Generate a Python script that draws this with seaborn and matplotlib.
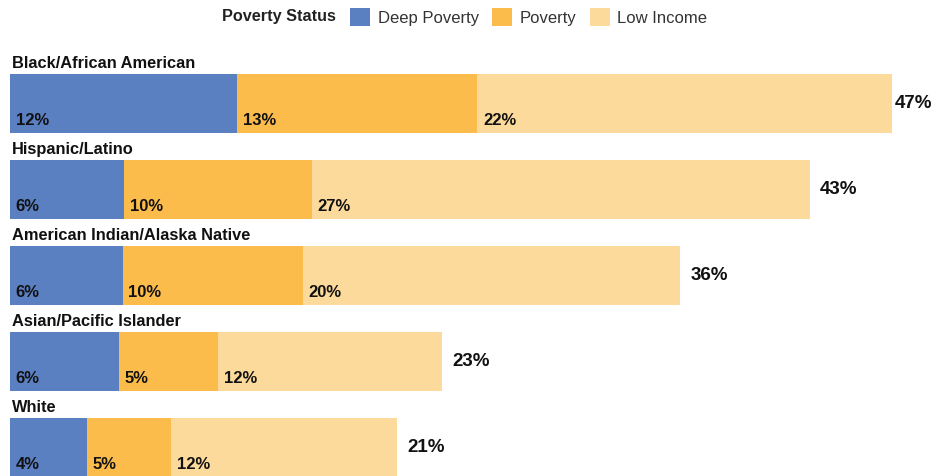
import matplotlib
matplotlib.use("Agg")
import matplotlib.pyplot as plt
from matplotlib.patches import Patch
import seaborn as sns
import pandas as pd

groups = ["Black/African American", "Hispanic/Latino", "American Indian/Alaska Native",
          "Asian/Pacific Islander", "White"]
deep_poverty = [12.1, 6.1, 6.0, 5.8, 4.1]
poverty = [12.8, 10.0, 9.6, 5.3, 4.5]
low_income = [22.1, 26.5, 20.1, 11.9, 12.0]
deep_labels = ["12%", "6%", "6%", "6%", "4%"]
poverty_labels = ["13%", "10%", "10%", "5%", "5%"]
low_labels = ["22%", "27%", "20%", "12%", "12%"]
total_labels = ["47%", "43%", "36%", "23%", "21%"]

series = ["Deep Poverty", "Poverty", "Low Income"]
colors = ["#5B80C2", "#FBBC4B", "#FCDA9B"]

sns.set_theme(style="white")
plt.rcParams["font.family"] = ["Liberation Sans", "DejaVu Sans"]

df = pd.DataFrame({"group": groups, "deep": deep_poverty, "pov": poverty, "low": low_income})
df["c1"] = df["deep"]
df["c2"] = df["deep"] + df["pov"]
df["c3"] = df["c2"] + df["low"]

fig = plt.figure(figsize=(9.35, 4.76), dpi=100)
ax = fig.add_axes([10 / 935, 0, 925 / 935, 1])

bw = 0.686
for col, colr in zip(["c3", "c2", "c1"], colors[::-1]):
    sns.barplot(data=df, x=col, y="group", orient="h", color=colr, width=bw,
                saturation=1, ax=ax, linewidth=0)

px_per_unit = 18.77
xmax = 925 / px_per_unit
ax.set_xlim(0, xmax)
ax.set_ylim(4 + 28.5 / 86, -103.5 / 86)
ax.axis("off")

# keep total labels inside the figure (right edge)
total_x_limit = xmax - 40 / px_per_unit

for i, g in enumerate(groups):
    top = i - bw / 2
    bot = i + bw / 2
    ax.text(0.1, top - 0.035, g, fontsize=11.8, fontweight="bold", va="bottom", ha="left",
            color="#111111")
    starts = [0, df["c1"][i], df["c2"][i]]
    labs = [deep_labels[i], poverty_labels[i], low_labels[i]]
    for s, lab in zip(starts, labs):
        ax.text(s + 0.3, bot - 0.06, lab, fontsize=12, fontweight="bold",
                va="bottom", ha="left", color="#111111")
    tx = min(df["c3"][i] + 0.55, total_x_limit)
    ax.text(tx, i, total_labels[i], fontsize=13.5, fontweight="bold",
            va="center", ha="left", color="#111111")

handles = [Patch(facecolor=c, edgecolor="none", label=s) for c, s in zip(colors, series)]
fig.text(336 / 935, 1 - 17 / 476, "Poverty Status", fontsize=11.7, fontweight="bold",
         ha="right", va="center", color="#222222")
fig.legend(handles=handles, loc="center left", bbox_to_anchor=(350 / 935, 1 - 17 / 476),
           ncol=3, frameon=False, fontsize=12, handlelength=1.2, handleheight=1.2,
           handletextpad=0.45, columnspacing=0.8, borderpad=0, borderaxespad=0,
           labelcolor="#333333")

fig.savefig("out.png", dpi=100)
